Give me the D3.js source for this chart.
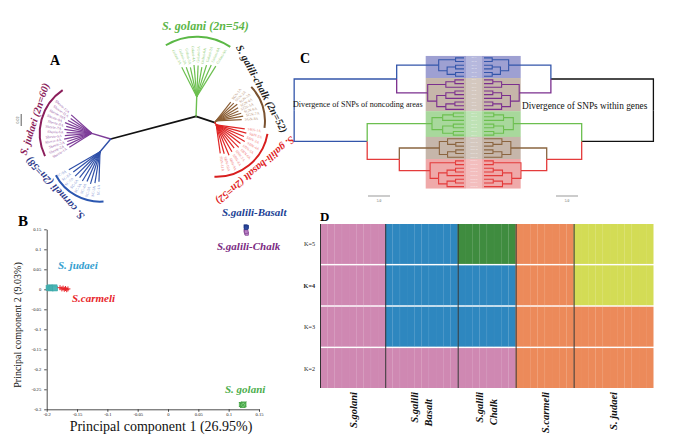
<!DOCTYPE html>
<html><head><meta charset="utf-8">
<script src="https://cdn.jsdelivr.net/npm/d3@7"></script>
<style>body{margin:0;background:#fff}svg{display:block}text{font-family:"Liberation Serif","Times New Roman",serif}</style>
</head><body>
<svg id="c" width="700" height="448"></svg>
<script>
// ===================== DATA =====================
// Panel A – unrooted tree
const cladeNamesA = ["S. golani (2n=54)","S. galili-chalk (2n=52)","S. galili-basalt (2n=52)","S. judaei (2n=60)","S. carmeli (2n=58)"];
const golaniLeaves = ["Golani-1A","Golani-2A","Golani-3A","Golani-4A","Golani-5A","Golani-6A","Golani-7A","Golani-8A","Golani-9A"];
const golaniLengths = [0.055,0.052,0.050,0.053,0.052,0.050,0.055,0.058,0.060];
const chalkLeaves = ["SGN-1A","SGN-2A","SGN-3A","SGN-4A","SGN-5A","SGN-6A","SGN-7A","SGN-8A"];
const chalkLengths = [0.040,0.042,0.045,0.043,0.041,0.044,0.046,0.043];
const basaltLeaves = ["SBN-1A","SBN-2A","SBN-3A","SBN-4A","SBN-5A","SBN-6A","SBN-7A","SBN-8A","SBN-9A","SBN-10A","SBN-11A"];
const basaltLengths = [0.048,0.052,0.050,0.055,0.051,0.053,0.049,0.052,0.055,0.050,0.048];
const judaeiLeaves = ["Shevie-1A","Shevie-2A","Shevie-3A","Shevie-4A","Shevie-5A","Shevie-6A","Shevie-7A","Shevie-8A","Shevie-9A","Shevie-10A","Shevie-11A","Shevie-12A"];
const judaeiLengths = [0.044,0.046,0.043,0.047,0.045,0.042,0.046,0.044,0.048,0.045,0.043,0.046];
const carmeliLeaves = ["SC-1A","SC-2A","SC-3A","SC-4A","SC-5A","SC-6A","SC-7A","SC-8A","SC-9A"];
const carmeliLengths = [0.050,0.053,0.056,0.054,0.057,0.055,0.058,0.056,0.060];
const backboneNodes = ["L","M","G","golani","chalk","basalt","judaei","carmeli"];
const backboneParents = [null,"L","M","M","G","G","L","L"];
const backboneLengths = [0,0.1472,0.0333,0.0327,0.0033,0.0042,0.0330,0.0277];
const scaleBarA = 0.02;

// Panel B – PCA
const pcaGroups = ["S. judaei","S.carmeli","S.galili-Basalt","S.galili-Chalk","S. golani"];
const judaeiPC1 = [-0.197,-0.195,-0.193,-0.191,-0.189,-0.187,-0.186];
const judaeiPC2 = [0.003,0.005,0.002,0.004,0.003,0.005,0.002];
const carmeliPC1 = [-0.178,-0.175,-0.173,-0.171,-0.169,-0.167,-0.165];
const carmeliPC2 = [0.004,0.001,0.003,0.000,0.002,-0.001,0.001];
const basaltPC1 = [0.128,0.129,0.130,0.129];
const basaltPC2 = [0.157,0.155,0.156,0.154];
const chalkPC1 = [0.128,0.129,0.130,0.129];
const chalkPC2 = [0.146,0.142,0.139,0.144];
const golaniPC1 = [0.121,0.123,0.125,0.124];
const golaniPC2 = [-0.288,-0.290,-0.287,-0.289];
const pcXTicks = [-0.2,-0.15,-0.1,-0.05,0,0.05,0.1,0.15];
const pcYTicks = [0.15,0.1,0.05,0,-0.05,-0.1,-0.15,-0.2,-0.25,-0.3];
const pcXTitle = "Principal component 1 (26.95%)";
const pcYTitle = "Principal component 2 (9.03%)";

// Panel C – mirrored dendrograms
const cGroups = ["carmeli","judaei","golani","chalk","basalt"];
const carmeliTreeC = [["SC-1","SC-2"],[["SC-3","SC-4"],["SC-5","SC-6"]]];
const judaeiTreeC = [[["SJ-1","SJ-2"],"SJ-3"],[[["SJ-4","SJ-5"],"SJ-6"],[["SJ-7","SJ-8"],"SJ-9"]]];
const golaniTreeC = [[["SG-1","SG-2"],"SG-3"],[["SG-4","SG-5"],["SG-6","SG-7"]]];
const chalkTreeC = [["SGC-1",["SGC-2","SGC-3"]],[["SGC-4","SGC-5"],"SGC-6"]];
const basaltTreeC = [["SGB-1","SGB-2"],[[["SGB-3","SGB-4"],"SGB-5"],[["SGB-6","SGB-7"],"SGB-8"]]];
const cOuterNodes = ["root","BP","GBR","BR","carmeli","judaei","golani","chalk","basalt"];
const cDistNoncoding = [38.6,15.3,22.0,14.7,5.75,8.25,7.27,5.6,7.7];
const cDistGenes = [38.5,15.2,22.2,14.25,5.6,8.0,6.66,6.1,8.4];
const cScaleBar = 5.0;
const cLeftTitle = "Divergence of SNPs of noncoding areas";
const cRightTitle = "Divergence of SNPs within genes";

// Panel D – STRUCTURE
const kLabels = ["K=5","K=4","K=3","K=2"];
const structGroups = [["S.golani"],["S.galili","Basalt"],["S.galili","Chalk"],["S.carmeli"],["S. judaei"]];
const structSizes = [9,10,8,8,11];
const assignK5 = [0,1,2,3,4];
const assignK4 = [0,1,1,3,4];
const assignK3 = [0,1,1,3,3];
const assignK2 = [0,0,0,3,3];

// ===================== DRAW =====================
const svg = d3.select("#c");
svg.append("rect").attr("width",700).attr("height",448).attr("fill","#fff");
const rad = d => d*Math.PI/180;

function panelLabel(t,x,y,size){
  svg.append("text").attr("x",x).attr("y",y).attr("font-size",size).attr("font-weight","bold").text(t);
}
panelLabel("A",50,65,14); panelLabel("B",18,226,15); panelLabel("C",300,63,14); panelLabel("D",320,221,13);

// ---------- Panel A ----------
(function(){
  const g = svg.append("g").attr("transform","translate(110.7,139)");
  const len = d3.scaleLinear().domain([0,scaleBarA]).range([0,12]);
  const bbAngle = {M:-14.9,G:18.6,golani:-88,chalk:-60,basalt:60,judaei:196.7,carmeli:130};
  const pos = {L:[0,0]};
  backboneNodes.forEach((n,i)=>{
    if(!backboneParents[i]) return;
    const p = pos[backboneParents[i]], a = rad(bbAngle[n]), l = len(backboneLengths[i]);
    pos[n] = [p[0]+l*Math.cos(a), p[1]+l*Math.sin(a)];
  });
  const bbColor = {M:"#111",G:"#111",golani:"#6cbf4f",chalk:"#8b5e34",basalt:"#e02424",judaei:"#7d3c98",carmeli:"#2e4fa8"};
  backboneNodes.forEach((n,i)=>{
    if(!backboneParents[i]) return;
    const p = pos[backboneParents[i]];
    g.append("line").attr("x1",p[0]).attr("y1",p[1]).attr("x2",pos[n][0]).attr("y2",pos[n][1])
      .attr("stroke",bbColor[n]).attr("stroke-width",(n==="M"||n==="G")?1.8:1.4).attr("stroke-linecap","round");
  });
  const clades = [
    {key:"golani",leaves:golaniLeaves,lens:golaniLengths,a0:-117,a1:-58,col:"#6cbf4f",lab:"#8dcc72",arcCol:"#5bb846",titleCol:"#5cb648",arcR:60,arc0:-121,arc1:-56,tA:-83,tR:71,tRot:0},
    {key:"chalk",leaves:chalkLeaves,lens:chalkLengths,a0:-52,a1:-3,col:"#8b5e34",lab:"#b8957a",arcCol:"#7a5230",titleCol:"#222",arcR:49,arc0:-44,arc1:8,tA:-35,tR:56,tRot:62},
    {key:"basalt",leaves:basaltLeaves,lens:basaltLengths,a0:8,a1:82,col:"#e02424",lab:"#f07878",arcCol:"#d81e1e",titleCol:"#e02424",arcR:52,arc0:10,arc1:92,tA:49.5,tR:60,tRot:140},
    {key:"judaei",leaves:judaeiLeaves,lens:judaeiLengths,a0:148,a1:222,col:"#7d3c98",lab:"#9c62a8",arcCol:"#8b1e5b",titleCol:"#8b1e5b",arcR:52,arc0:154,arc1:236,tA:194,tR:59,tRot:-72},
    {key:"carmeli",leaves:carmeliLeaves,lens:carmeliLengths,a0:92,a1:150,col:"#2e4fa8",lab:"#7d8fd0",arcCol:"#2a56b0",titleCol:"#2d3a8c",arcR:50,arc0:86,arc1:152,tA:141,tR:58,tRot:-133}
  ];
  clades.forEach((c,ci)=>{
    const [cx,cy] = pos[c.key];
    const ang = d3.scaleLinear().domain([0,c.leaves.length-1]).range([c.a0,c.a1]);
    c.leaves.forEach((name,i)=>{
      const a = ang(i), r = len(c.lens[i]);
      g.append("line").attr("x1",cx).attr("y1",cy)
        .attr("x2",cx+r*Math.cos(rad(a))).attr("y2",cy+r*Math.sin(rad(a)))
        .attr("stroke",c.col).attr("stroke-width",1.2);
      const rl = r+3, lx = cx+rl*Math.cos(rad(a)), ly = cy+rl*Math.sin(rad(a));
      const flip = Math.cos(rad(a))<0;
      g.append("text").attr("transform",`translate(${lx},${ly}) rotate(${flip?a+180:a})`)
        .attr("text-anchor",flip?"end":"start").attr("dominant-baseline","central")
        .attr("font-size",3.8).attr("fill",c.lab).text(name);
    });
    const p = d3.path(); p.arc(cx,cy,c.arcR,rad(c.arc0),rad(c.arc1));
    g.append("path").attr("d",p.toString()).attr("fill","none").attr("stroke",c.arcCol).attr("stroke-width",2);
    const tx = cx+c.tR*Math.cos(rad(c.tA)), ty = cy+c.tR*Math.sin(rad(c.tA));
    g.append("text").attr("transform",`translate(${tx},${ty}) rotate(${c.tRot})`)
      .attr("text-anchor","middle").attr("dominant-baseline","central")
      .attr("font-size",ci===0?12:10.5).attr("font-weight","bold").attr("font-style","italic")
      .attr("fill",c.titleCol).text(cladeNamesA[ci]);
  });
  // scale bar
  g.append("line").attr("x1",-89.5).attr("x2",-89.5).attr("y1",-25).attr("y2",-25+len(scaleBarA)).attr("stroke","#333").attr("stroke-width",0.8);
  g.append("text").attr("transform",`translate(-92,${-25+len(scaleBarA)/2}) rotate(-90)`).attr("text-anchor","middle")
    .attr("font-size",4).attr("fill","#333").text(scaleBarA.toFixed(2));
})();

// ---------- Panel B ----------
(function(){
  const x = d3.scaleLinear().domain([-0.2,0.15]).range([46.7,259]);
  const y = d3.scaleLinear().domain([-0.3,0.15]).range([409.3,229.3]);
  const ax = svg.append("g").attr("transform","translate(0,409.3)")
    .call(d3.axisBottom(x).tickValues(pcXTicks).tickSize(2.5).tickSizeOuter(0).tickFormat(d=>String(d)));
  const ay = svg.append("g").attr("transform","translate(46.7,0)")
    .call(d3.axisLeft(y).tickValues(pcYTicks).tickSize(2.5).tickSizeOuter(0).tickFormat(d=>String(d)));
  [ax,ay].forEach(a=>{
    a.selectAll("text").attr("font-size",4.6).attr("font-family",'"Liberation Serif",serif').attr("fill","#222");
    a.selectAll("path,line").attr("stroke","#222").attr("stroke-width",0.8);
  });
  ax.selectAll(".tick text").attr("y",3).attr("dy","0.7em");
  svg.append("text").attr("x",161).attr("y",431).attr("text-anchor","middle").attr("font-size",14).attr("fill","#111").text(pcXTitle);
  svg.append("text").attr("transform","translate(21,325) rotate(-90)").attr("text-anchor","middle").attr("font-size",10).attr("fill","#111").text(pcYTitle);

  const sq = (xs,ys,fill,stroke,s)=>xs.forEach((v,i)=>svg.append("rect").attr("x",x(v)-s/2).attr("y",y(ys[i])-s/2)
      .attr("width",s).attr("height",s).attr("fill",fill).attr("stroke",stroke).attr("stroke-width",0.5));
  sq(judaeiPC1,judaeiPC2,"#4cb6b6","#3aa6a6",5);
  carmeliPC1.forEach((v,i)=>{
    const cx=x(v), cy=y(carmeliPC2[i]);
    svg.append("path").attr("d",`M${cx-2.5},${cy}H${cx+2.5}M${cx},${cy-2.5}V${cy+2.5}`).attr("stroke","#e8262b").attr("stroke-width",1);
  });
  sq(chalkPC1,chalkPC2,"#b77fc4","#7b3a8a",3.5);
  sq(basaltPC1,basaltPC2,"#2d4aa0","#1c3580",3.5);
  golaniPC1.forEach((v,i)=>{
    const cx=x(v), cy=y(golaniPC2[i]);
    svg.append("rect").attr("x",cx-2.2).attr("y",cy-2.2).attr("width",4.4).attr("height",4.4).attr("fill","#7fcf7f").attr("stroke","#3e9e3e").attr("stroke-width",0.6);
    svg.append("path").attr("d",`M${cx-2.5},${cy-2.5}L${cx+2.5},${cy+2.5}M${cx+2.5},${cy-2.5}L${cx-2.5},${cy+2.5}`).attr("stroke","#3e9e3e").attr("stroke-width",0.8);
  });
  const lab = (t,xx,yy,col)=>svg.append("text").attr("x",xx).attr("y",yy).attr("font-size",11).attr("font-weight","bold")
     .attr("font-style","italic").attr("fill",col).text(t);
  lab(pcaGroups[0],58,269,"#35a0d0");
  lab(pcaGroups[1],72,302,"#e8262b");
  lab(pcaGroups[2],222,216,"#1c3f94");
  lab(pcaGroups[3],217,250,"#7a2a82");
  lab(pcaGroups[4],225,393,"#4cae4c");
})();

// ---------- Panel C ----------
(function(){
  const groupTrees = {carmeli:carmeliTreeC,judaei:judaeiTreeC,golani:golaniTreeC,chalk:chalkTreeC,basalt:basaltTreeC};
  const toNode = (a,grp)=>Array.isArray(a)?{children:a.map(d=>toNode(d,grp)),grp}:{name:a,grp};
  const gNode = k=>Object.assign(toNode(groupTrees[k],k),{name:k,isGroup:true});
  const data = {name:"root",children:[{name:"BP",children:[gNode("carmeli"),gNode("judaei")]},
     {name:"GBR",children:[gNode("golani"),{name:"BR",children:[gNode("chalk"),gNode("basalt")]}]}]};
  const root = d3.hierarchy(data);
  d3.cluster().size([132.5,1]).separation(()=>1)(root);
  const top = 56;
  const step = 132.5/(root.leaves().length-1);
  const col = {carmeli:"#3355aa",judaei:"#7b2f8e",golani:"#6cbf4f",chalk:"#8b6540",basalt:"#e43b3b"};
  const bg = {carmeli:"#9ea0d2",judaei:"#c6b6aa",golani:"#a8d89c",chalk:"#c6b6aa",basalt:"#efa9a9"};
  const xL = d3.scaleLinear().domain([0,cScaleBar]).range([464,442]);
  const xR = d3.scaleLinear().domain([0,cScaleBar]).range([484,506]);
  const groupNodes = root.descendants().filter(d=>d.data.isGroup);
  groupNodes.forEach(gn=>{
    const ls = gn.leaves();
    const y0 = top+d3.min(ls,d=>d.x)-step/2, y1 = top+d3.max(ls,d=>d.x)+step/2;
    svg.append("rect").attr("x",425.7).attr("y",y0).attr("width",95).attr("height",y1-y0).attr("fill",bg[gn.data.name]);
  });
  svg.append("rect").attr("x",466).attr("y",top-step/2).attr("width",16).attr("height",132.5+step).attr("fill","#fff").attr("opacity",0.25);
  function dist(node,side){
    const arr = side==="L"?cDistNoncoding:cDistGenes;
    const oi = node.data.isGroup||!node.data.grp ? cOuterNodes.indexOf(node.data.name) : -1;
    if(oi>=0) return arr[oi];
    let gp = node; while(!gp.data.isGroup) gp = gp.parent;
    return arr[cOuterNodes.indexOf(gp.data.name)]*node.height/gp.height;
  }
  function color(node,side){
    if(node.data.grp) return col[node.data.grp];
    if(node.data.name==="BR") return col.basalt;
    return side==="L"?"#3355aa":"#111";
  }
  ["L","R"].forEach(side=>{
    const sx = side==="L"?xL:xR;
    root.descendants().forEach(n=>{
      if(!n.parent) return;
      const px = sx(dist(n.parent,side)), nx = sx(dist(n,side));
      const py = top+n.parent.x, ny = top+n.x;
      const inner = n.data.grp && !n.data.isGroup;
      svg.append("path").attr("d",`M${px},${py}V${ny}H${nx}`).attr("fill","none")
        .attr("stroke",color(n,side)).attr("stroke-width",inner?1.1:1.3);
    });
  });
  root.leaves().forEach(l=>{
    svg.append("text").attr("x",474).attr("y",top+l.x).attr("text-anchor","middle").attr("dominant-baseline","central")
      .attr("font-size",2.5).attr("fill","#fff").attr("opacity",0.85).text(l.data.name);
  });
  svg.append("text").attr("x",293).attr("y",107).attr("font-size",8.1).attr("fill","#111").text(cLeftTitle);
  svg.append("text").attr("x",522).attr("y",109).attr("font-size",9.3).attr("fill","#111").text(cRightTitle);
  [[xL,379],[xR,567]].forEach(([s,cx])=>{
    const w = Math.abs(s(cScaleBar)-s(0));
    svg.append("line").attr("x1",cx-w/2).attr("x2",cx+w/2).attr("y1",196).attr("y2",196).attr("stroke","#999").attr("stroke-width",1);
    svg.append("text").attr("x",cx).attr("y",201.5).attr("text-anchor","middle").attr("font-size",3.5).attr("fill","#555").text(cScaleBar.toFixed(1));
  });
})();

// ---------- Panel D ----------
(function(){
  const total = d3.sum(structSizes);
  const x = d3.scaleLinear().domain([0,total]).range([320,653.3]);
  const y = d3.scaleBand().domain(kLabels).range([224,388]).paddingInner(0.035);
  const clusterColor = d3.scaleOrdinal().domain([0,1,2,3,4]).range(["#cf88b2","#2e87bf","#3f8c3f","#ec8a5a","#d3dc55"]);
  const assigns = {"K=5":assignK5,"K=4":assignK4,"K=3":assignK3,"K=2":assignK2};
  const starts = d3.cumsum([0,...structSizes]);
  kLabels.forEach(k=>{
    structSizes.forEach((n,gi)=>{
      d3.range(n).forEach(j=>{
        const i = starts[gi]+j;
        svg.append("rect").attr("x",x(i)).attr("y",y(k)).attr("width",x(i+1)-x(i)+0.2).attr("height",y.bandwidth())
          .attr("fill",clusterColor(assigns[k][gi]));
        svg.append("line").attr("x1",x(i)+0.3).attr("x2",x(i)+0.3).attr("y1",y(k)).attr("y2",y(k)+y.bandwidth())
          .attr("stroke","#fff").attr("stroke-opacity",0.07).attr("stroke-width",0.6);
      });
    });
    svg.append("text").attr("x",315).attr("y",y(k)+y.bandwidth()/2).attr("text-anchor","end").attr("dominant-baseline","central")
      .attr("font-size",6.2).attr("font-weight",k==="K=4"?"bold":"normal").attr("fill","#222").text(k);
  });
  structSizes.forEach((n,gi)=>{
    svg.append("line").attr("x1",x(starts[gi])+0.5).attr("x2",x(starts[gi])+0.5).attr("y1",224).attr("y2",388)
      .attr("stroke","#333").attr("stroke-width",1);
    const cx = (x(starts[gi])+x(starts[gi+1]))/2;
    const lines = structGroups[gi];
    lines.forEach((t,li)=>{
      const lx = cx + (lines.length===2 ? (li===0?-3.5:10.5) : 4);
      svg.append("text").attr("transform",`translate(${lx},${392+li*7}) rotate(-90)`).attr("text-anchor","end")
        .attr("font-size",10.5).attr("font-weight","bold").attr("font-style","italic").attr("fill","#111").text(t);
    });
  });
})();
</script>
</body></html>
